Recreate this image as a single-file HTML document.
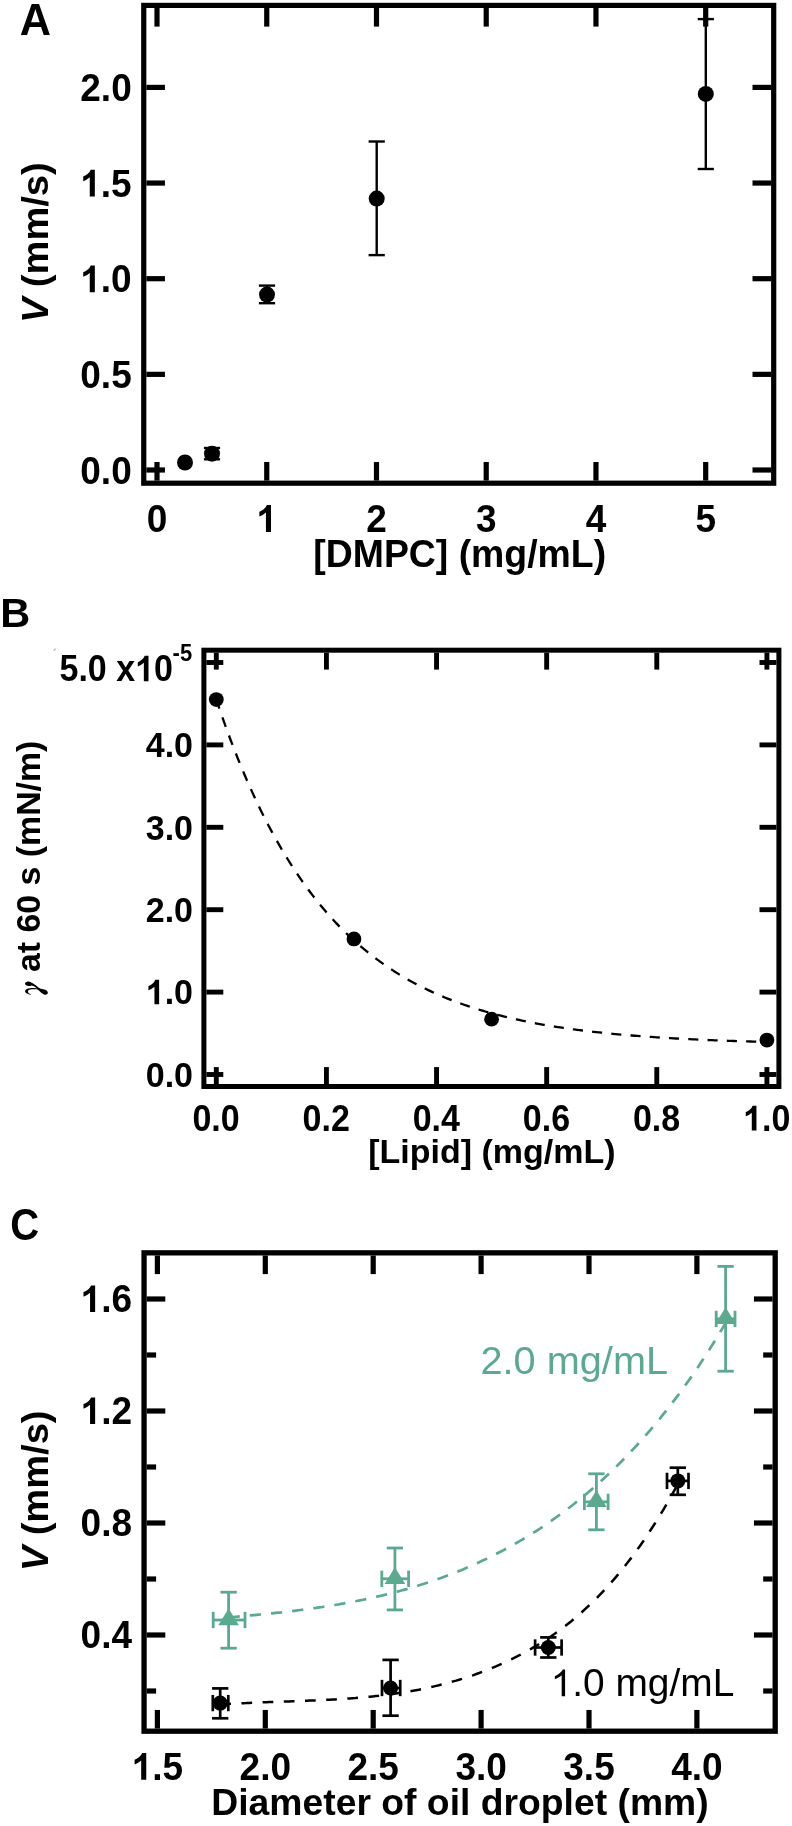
<!DOCTYPE html>
<html><head><meta charset="utf-8"><title>Figure</title>
<style>
html,body{margin:0;padding:0;background:#fff;}
body{width:792px;height:1826px;overflow:hidden;font-family:"Liberation Sans",sans-serif;}
svg{display:block;filter:blur(0.45px);}
</style></head><body>
<svg width="792" height="1826" viewBox="0 0 792 1826">
<rect x="0" y="0" width="792" height="1826" fill="#fff"/>
<rect x="143.75" y="5.40" width="629.95" height="477.80" fill="none" stroke="#000" stroke-width="5.2"/>
<line x1="157.00" y1="480.60" x2="157.00" y2="462.00" stroke="#000" stroke-width="5.2" />
<line x1="157.00" y1="8.00" x2="157.00" y2="26.60" stroke="#000" stroke-width="5.2" />
<text transform="translate(157.00,532.00) scale(1,1.065)" font-size="37" text-anchor="middle" font-family="Liberation Sans, sans-serif" font-weight="bold" fill="#000" >0</text>
<line x1="266.74" y1="480.60" x2="266.74" y2="462.00" stroke="#000" stroke-width="5.2" />
<line x1="266.74" y1="8.00" x2="266.74" y2="26.60" stroke="#000" stroke-width="5.2" />
<g transform="translate(256.45,532.00) scale(1,1.065)" fill="#000"><path transform="translate(0.00,0) scale(0.01807,-0.01729)" d="M806 0H525V1059Q371 915 162 846V1101Q272 1137 401 1237.5Q530 1338 578 1472H806Z"/></g>
<line x1="376.48" y1="480.60" x2="376.48" y2="462.00" stroke="#000" stroke-width="5.2" />
<line x1="376.48" y1="8.00" x2="376.48" y2="26.60" stroke="#000" stroke-width="5.2" />
<text transform="translate(376.48,532.00) scale(1,1.065)" font-size="37" text-anchor="middle" font-family="Liberation Sans, sans-serif" font-weight="bold" fill="#000" >2</text>
<line x1="486.22" y1="480.60" x2="486.22" y2="462.00" stroke="#000" stroke-width="5.2" />
<line x1="486.22" y1="8.00" x2="486.22" y2="26.60" stroke="#000" stroke-width="5.2" />
<text transform="translate(486.22,532.00) scale(1,1.065)" font-size="37" text-anchor="middle" font-family="Liberation Sans, sans-serif" font-weight="bold" fill="#000" >3</text>
<line x1="595.96" y1="480.60" x2="595.96" y2="462.00" stroke="#000" stroke-width="5.2" />
<line x1="595.96" y1="8.00" x2="595.96" y2="26.60" stroke="#000" stroke-width="5.2" />
<text transform="translate(595.96,532.00) scale(1,1.065)" font-size="37" text-anchor="middle" font-family="Liberation Sans, sans-serif" font-weight="bold" fill="#000" >4</text>
<line x1="705.70" y1="480.60" x2="705.70" y2="462.00" stroke="#000" stroke-width="5.2" />
<line x1="705.70" y1="8.00" x2="705.70" y2="26.60" stroke="#000" stroke-width="5.2" />
<text transform="translate(705.70,532.00) scale(1,1.065)" font-size="37" text-anchor="middle" font-family="Liberation Sans, sans-serif" font-weight="bold" fill="#000" >5</text>
<line x1="146.35" y1="470.00" x2="164.95" y2="470.00" stroke="#000" stroke-width="5.2" />
<line x1="771.10" y1="470.00" x2="752.50" y2="470.00" stroke="#000" stroke-width="5.2" />
<text transform="translate(131.70,483.50) scale(1,1.05)" font-size="37" text-anchor="end" font-family="Liberation Sans, sans-serif" font-weight="bold" fill="#000" >0.0</text>
<line x1="146.35" y1="374.35" x2="164.95" y2="374.35" stroke="#000" stroke-width="5.2" />
<line x1="771.10" y1="374.35" x2="752.50" y2="374.35" stroke="#000" stroke-width="5.2" />
<text transform="translate(131.70,387.85) scale(1,1.05)" font-size="37" text-anchor="end" font-family="Liberation Sans, sans-serif" font-weight="bold" fill="#000" >0.5</text>
<line x1="146.35" y1="278.70" x2="164.95" y2="278.70" stroke="#000" stroke-width="5.2" />
<line x1="771.10" y1="278.70" x2="752.50" y2="278.70" stroke="#000" stroke-width="5.2" />
<g transform="translate(80.27,292.20) scale(1,1.05)" fill="#000"><path transform="translate(0.00,0) scale(0.01807,-0.01729)" d="M806 0H525V1059Q371 915 162 846V1101Q272 1137 401 1237.5Q530 1338 578 1472H806Z"/><text x="20.57" y="0" font-size="37" text-anchor="start" font-family="Liberation Sans, sans-serif" font-weight="bold" >.0</text></g>
<line x1="146.35" y1="183.05" x2="164.95" y2="183.05" stroke="#000" stroke-width="5.2" />
<line x1="771.10" y1="183.05" x2="752.50" y2="183.05" stroke="#000" stroke-width="5.2" />
<g transform="translate(80.27,196.55) scale(1,1.05)" fill="#000"><path transform="translate(0.00,0) scale(0.01807,-0.01729)" d="M806 0H525V1059Q371 915 162 846V1101Q272 1137 401 1237.5Q530 1338 578 1472H806Z"/><text x="20.57" y="0" font-size="37" text-anchor="start" font-family="Liberation Sans, sans-serif" font-weight="bold" >.5</text></g>
<line x1="146.35" y1="87.40" x2="164.95" y2="87.40" stroke="#000" stroke-width="5.2" />
<line x1="771.10" y1="87.40" x2="752.50" y2="87.40" stroke="#000" stroke-width="5.2" />
<text transform="translate(131.70,100.90) scale(1,1.05)" font-size="37" text-anchor="end" font-family="Liberation Sans, sans-serif" font-weight="bold" fill="#000" >2.0</text>
<text transform="translate(313.30,567.00) scale(1,1.03)" font-size="37.4" text-anchor="start" font-family="Liberation Sans, sans-serif" font-weight="bold" fill="#000" >[DMPC] (mg/mL)</text>
<text transform="translate(47.5,242.7) rotate(-90) scale(1.03,0.985)" font-size="37" text-anchor="middle" font-family="Liberation Sans, sans-serif" font-weight="bold"><tspan font-style="italic">V</tspan> (mm/s)</text>
<text transform="translate(19.70,35.40) scale(1,1.02)" font-size="43.3" text-anchor="start" font-family="Liberation Sans, sans-serif" font-weight="bold" fill="#000" >A</text>
<circle cx="185" cy="462.5" r="8" fill="#000"/>
<line x1="212.00" y1="448.00" x2="212.00" y2="459.30" stroke="#000" stroke-width="2.4" />
<line x1="203.90" y1="448.00" x2="220.10" y2="448.00" stroke="#000" stroke-width="2.4" />
<line x1="203.90" y1="459.30" x2="220.10" y2="459.30" stroke="#000" stroke-width="2.4" />
<circle cx="212" cy="453.7" r="8" fill="#000"/>
<line x1="267.00" y1="285.60" x2="267.00" y2="303.20" stroke="#000" stroke-width="2.4" />
<line x1="258.90" y1="285.60" x2="275.10" y2="285.60" stroke="#000" stroke-width="2.4" />
<line x1="258.90" y1="303.20" x2="275.10" y2="303.20" stroke="#000" stroke-width="2.4" />
<circle cx="267" cy="294.6" r="8" fill="#000"/>
<line x1="376.70" y1="141.50" x2="376.70" y2="255.10" stroke="#000" stroke-width="2.4" />
<line x1="368.60" y1="141.50" x2="384.80" y2="141.50" stroke="#000" stroke-width="2.4" />
<line x1="368.60" y1="255.10" x2="384.80" y2="255.10" stroke="#000" stroke-width="2.4" />
<circle cx="376.7" cy="198.6" r="8" fill="#000"/>
<line x1="705.80" y1="19.10" x2="705.80" y2="169.00" stroke="#000" stroke-width="2.4" />
<line x1="697.70" y1="19.10" x2="713.90" y2="19.10" stroke="#000" stroke-width="2.4" />
<line x1="697.70" y1="169.00" x2="713.90" y2="169.00" stroke="#000" stroke-width="2.4" />
<circle cx="705.8" cy="93.9" r="8" fill="#000"/>
<rect x="203.90" y="650.20" width="575.00" height="436.30" fill="none" stroke="#000" stroke-width="5.0"/>
<line x1="216.30" y1="1084.00" x2="216.30" y2="1067.10" stroke="#000" stroke-width="4.9" />
<line x1="216.30" y1="652.70" x2="216.30" y2="669.60" stroke="#000" stroke-width="4.9" />
<text transform="translate(216.10,1130.60) scale(1,1.06)" font-size="34" text-anchor="middle" font-family="Liberation Sans, sans-serif" font-weight="bold" fill="#000" >0.0</text>
<line x1="326.42" y1="1084.00" x2="326.42" y2="1067.10" stroke="#000" stroke-width="4.9" />
<line x1="326.42" y1="652.70" x2="326.42" y2="669.60" stroke="#000" stroke-width="4.9" />
<text transform="translate(326.22,1130.60) scale(1,1.06)" font-size="34" text-anchor="middle" font-family="Liberation Sans, sans-serif" font-weight="bold" fill="#000" >0.2</text>
<line x1="436.54" y1="1084.00" x2="436.54" y2="1067.10" stroke="#000" stroke-width="4.9" />
<line x1="436.54" y1="652.70" x2="436.54" y2="669.60" stroke="#000" stroke-width="4.9" />
<text transform="translate(436.34,1130.60) scale(1,1.06)" font-size="34" text-anchor="middle" font-family="Liberation Sans, sans-serif" font-weight="bold" fill="#000" >0.4</text>
<line x1="546.66" y1="1084.00" x2="546.66" y2="1067.10" stroke="#000" stroke-width="4.9" />
<line x1="546.66" y1="652.70" x2="546.66" y2="669.60" stroke="#000" stroke-width="4.9" />
<text transform="translate(546.46,1130.60) scale(1,1.06)" font-size="34" text-anchor="middle" font-family="Liberation Sans, sans-serif" font-weight="bold" fill="#000" >0.6</text>
<line x1="656.78" y1="1084.00" x2="656.78" y2="1067.10" stroke="#000" stroke-width="4.9" />
<line x1="656.78" y1="652.70" x2="656.78" y2="669.60" stroke="#000" stroke-width="4.9" />
<text transform="translate(656.58,1130.60) scale(1,1.06)" font-size="34" text-anchor="middle" font-family="Liberation Sans, sans-serif" font-weight="bold" fill="#000" >0.8</text>
<line x1="766.90" y1="1084.00" x2="766.90" y2="1067.10" stroke="#000" stroke-width="4.9" />
<line x1="766.90" y1="652.70" x2="766.90" y2="669.60" stroke="#000" stroke-width="4.9" />
<g transform="translate(743.07,1130.60) scale(1,1.06)" fill="#000"><path transform="translate(0.00,0) scale(0.01660,-0.01589)" d="M806 0H525V1059Q371 915 162 846V1101Q272 1137 401 1237.5Q530 1338 578 1472H806Z"/><text x="18.90" y="0" font-size="34" text-anchor="start" font-family="Liberation Sans, sans-serif" font-weight="bold" >.0</text></g>
<line x1="206.40" y1="1074.50" x2="223.30" y2="1074.50" stroke="#000" stroke-width="4.9" />
<line x1="776.40" y1="1074.50" x2="759.50" y2="1074.50" stroke="#000" stroke-width="4.9" />
<text transform="translate(193.00,1086.70) scale(1,1.05)" font-size="34" text-anchor="end" font-family="Liberation Sans, sans-serif" font-weight="bold" fill="#000" >0.0</text>
<line x1="206.40" y1="992.10" x2="223.30" y2="992.10" stroke="#000" stroke-width="4.9" />
<line x1="776.40" y1="992.10" x2="759.50" y2="992.10" stroke="#000" stroke-width="4.9" />
<g transform="translate(145.74,1004.30) scale(1,1.05)" fill="#000"><path transform="translate(0.00,0) scale(0.01660,-0.01589)" d="M806 0H525V1059Q371 915 162 846V1101Q272 1137 401 1237.5Q530 1338 578 1472H806Z"/><text x="18.90" y="0" font-size="34" text-anchor="start" font-family="Liberation Sans, sans-serif" font-weight="bold" >.0</text></g>
<line x1="206.40" y1="909.70" x2="223.30" y2="909.70" stroke="#000" stroke-width="4.9" />
<line x1="776.40" y1="909.70" x2="759.50" y2="909.70" stroke="#000" stroke-width="4.9" />
<text transform="translate(193.00,921.90) scale(1,1.05)" font-size="34" text-anchor="end" font-family="Liberation Sans, sans-serif" font-weight="bold" fill="#000" >2.0</text>
<line x1="206.40" y1="827.30" x2="223.30" y2="827.30" stroke="#000" stroke-width="4.9" />
<line x1="776.40" y1="827.30" x2="759.50" y2="827.30" stroke="#000" stroke-width="4.9" />
<text transform="translate(193.00,839.50) scale(1,1.05)" font-size="34" text-anchor="end" font-family="Liberation Sans, sans-serif" font-weight="bold" fill="#000" >3.0</text>
<line x1="206.40" y1="744.90" x2="223.30" y2="744.90" stroke="#000" stroke-width="4.9" />
<line x1="776.40" y1="744.90" x2="759.50" y2="744.90" stroke="#000" stroke-width="4.9" />
<text transform="translate(193.00,757.10) scale(1,1.05)" font-size="34" text-anchor="end" font-family="Liberation Sans, sans-serif" font-weight="bold" fill="#000" >4.0</text>
<line x1="206.40" y1="662.50" x2="223.30" y2="662.50" stroke="#000" stroke-width="4.9" />
<line x1="776.40" y1="662.50" x2="759.50" y2="662.50" stroke="#000" stroke-width="4.9" />
<g transform="translate(59.50,681.20) scale(1,1.09)" fill="#000"><text x="0.00" y="0" font-size="34" text-anchor="start" font-family="Liberation Sans, sans-serif" font-weight="bold" >5.0 x</text><path transform="translate(75.62,0) scale(0.01660,-0.01589)" d="M806 0H525V1059Q371 915 162 846V1101Q272 1137 401 1237.5Q530 1338 578 1472H806Z"/><text x="94.52" y="0" font-size="34" text-anchor="start" font-family="Liberation Sans, sans-serif" font-weight="bold" >0</text></g>
<text transform="translate(172.60,661.00) scale(1,1.08)" font-size="22" text-anchor="start" font-family="Liberation Sans, sans-serif" font-weight="bold" fill="#000" >-5</text>
<text transform="translate(368.20,1163.40) scale(1,0.99)" font-size="34" text-anchor="start" font-family="Liberation Sans, sans-serif" font-weight="bold" fill="#000" >[Lipid] (mg/mL)</text>
<g transform="translate(15,970) scale(0.056818)" fill="#000"><path d="M215,205C260,200 320,235 370,275C400,300 420,320 450,330C520,335 580,360 578,400C575,435 540,440 510,430C470,415 430,375 400,340C370,305 330,275 290,272C260,285 215,285 190,265C165,240 180,208 215,205Z"/><path d="M275,435C230,425 175,410 178,375C180,335 240,318 310,318C350,318 390,322 420,332L415,346C380,338 340,336 300,340C250,345 225,360 228,385C232,410 255,422 282,428Z"/></g>
<text transform="translate(39.6,972.0) rotate(-90) scale(1.068,1.04)" font-size="31.7" text-anchor="start" font-family="Liberation Sans, sans-serif" font-weight="bold">at 60 s (mN/m)</text>
<text transform="translate(0.20,627.30) scale(1,1.0)" font-size="41.5" text-anchor="start" font-family="Liberation Sans, sans-serif" font-weight="bold" fill="#000" >B</text>
<line x1="53.60" y1="650.40" x2="55.60" y2="649.00" stroke="#777" stroke-width="0.9" />
<path d="M216.30,699.58 L219.05,707.74 L221.81,715.71 L224.56,723.49 L227.31,731.09 L230.06,738.50 L232.82,745.75 L235.57,752.82 L238.32,759.72 L241.08,766.46 L243.83,773.04 L246.58,779.47 L249.34,785.74 L252.09,791.86 L254.84,797.84 L257.60,803.68 L260.35,809.38 L263.10,814.95 L265.85,820.38 L268.61,825.69 L271.36,830.87 L274.11,835.93 L276.87,840.87 L279.62,845.69 L282.37,850.40 L285.12,854.99 L287.88,859.48 L290.63,863.86 L293.38,868.14 L296.14,872.32 L298.89,876.40 L301.64,880.38 L304.40,884.27 L307.15,888.06 L309.90,891.77 L312.66,895.39 L315.41,898.92 L318.16,902.37 L320.91,905.74 L323.67,909.02 L326.42,912.23 L329.17,915.37 L331.93,918.43 L334.68,921.42 L337.43,924.34 L340.19,927.18 L342.94,929.97 L345.69,932.68 L348.44,935.33 L351.20,937.92 L353.95,940.45 L356.70,942.92 L359.46,945.33 L362.21,947.68 L364.96,949.97 L367.72,952.22 L370.47,954.41 L373.22,956.54 L375.97,958.63 L378.73,960.67 L381.48,962.66 L384.23,964.60 L386.99,966.50 L389.74,968.35 L392.49,970.16 L395.25,971.92 L398.00,973.65 L400.75,975.33 L403.50,976.97 L406.26,978.58 L409.01,980.14 L411.76,981.67 L414.52,983.17 L417.27,984.62 L420.02,986.05 L422.78,987.44 L425.53,988.79 L428.28,990.12 L431.03,991.41 L433.79,992.68 L436.54,993.91 L439.29,995.11 L442.05,996.29 L444.80,997.44 L447.55,998.56 L450.31,999.65 L453.06,1000.72 L455.81,1001.76 L458.56,1002.78 L461.32,1003.77 L464.07,1004.74 L466.82,1005.69 L469.58,1006.62 L472.33,1007.52 L475.08,1008.40 L477.84,1009.26 L480.59,1010.10 L483.34,1010.93 L486.09,1011.73 L488.85,1012.51 L491.60,1013.27 L494.35,1014.02 L497.11,1014.75 L499.86,1015.46 L502.61,1016.15 L505.37,1016.83 L508.12,1017.49 L510.87,1018.14 L513.62,1018.77 L516.38,1019.39 L519.13,1019.99 L521.88,1020.58 L524.64,1021.15 L527.39,1021.71 L530.14,1022.26 L532.89,1022.79 L535.65,1023.31 L538.40,1023.82 L541.15,1024.32 L543.91,1024.80 L546.66,1025.28 L549.41,1025.74 L552.17,1026.19 L554.92,1026.63 L557.67,1027.06 L560.42,1027.48 L563.18,1027.89 L565.93,1028.29 L568.68,1028.68 L571.44,1029.07 L574.19,1029.44 L576.94,1029.80 L579.70,1030.16 L582.45,1030.50 L585.20,1030.84 L587.96,1031.17 L590.71,1031.50 L593.46,1031.81 L596.21,1032.12 L598.97,1032.42 L601.72,1032.71 L604.47,1033.00 L607.23,1033.28 L609.98,1033.55 L612.73,1033.82 L615.49,1034.08 L618.24,1034.34 L620.99,1034.58 L623.74,1034.83 L626.50,1035.06 L629.25,1035.29 L632.00,1035.52 L634.76,1035.74 L637.51,1035.95 L640.26,1036.16 L643.02,1036.37 L645.77,1036.57 L648.52,1036.76 L651.27,1036.96 L654.03,1037.14 L656.78,1037.32 L659.53,1037.50 L662.29,1037.67 L665.04,1037.84 L667.79,1038.01 L670.55,1038.17 L673.30,1038.33 L676.05,1038.48 L678.80,1038.63 L681.56,1038.78 L684.31,1038.92 L687.06,1039.06 L689.82,1039.20 L692.57,1039.33 L695.32,1039.46 L698.08,1039.59 L700.83,1039.71 L703.58,1039.83 L706.33,1039.95 L709.09,1040.07 L711.84,1040.18 L714.59,1040.29 L717.35,1040.40 L720.10,1040.50 L722.85,1040.61 L725.61,1040.71 L728.36,1040.80 L731.11,1040.90 L733.86,1040.99 L736.62,1041.08 L739.37,1041.17 L742.12,1041.26 L744.88,1041.34 L747.63,1041.42 L750.38,1041.51 L753.13,1041.58 L755.89,1041.66 L758.64,1041.74 L761.39,1041.81 L764.15,1041.88 L766.90,1041.95" fill="none" stroke="#000" stroke-width="2.3" stroke-dasharray="10.1 9.2" stroke-dashoffset="0.5"/>
<circle cx="216.30" cy="699.58" r="7.4" fill="#000"/>
<circle cx="353.95" cy="938.95" r="7.4" fill="#000"/>
<circle cx="491.60" cy="1019.13" r="7.4" fill="#000"/>
<circle cx="766.90" cy="1040.06" r="7.4" fill="#000"/>
<rect x="144.05" y="1252.85" width="631.15" height="478.35" fill="none" stroke="#000" stroke-width="5.3"/>
<line x1="157.40" y1="1728.55" x2="157.40" y2="1709.95" stroke="#000" stroke-width="5.2" />
<line x1="157.40" y1="1255.50" x2="157.40" y2="1274.10" stroke="#000" stroke-width="5.2" />
<g transform="translate(131.69,1779.80) scale(1,1.05)" fill="#000"><path transform="translate(0.00,0) scale(0.01807,-0.01729)" d="M806 0H525V1059Q371 915 162 846V1101Q272 1137 401 1237.5Q530 1338 578 1472H806Z"/><text x="20.57" y="0" font-size="37" text-anchor="start" font-family="Liberation Sans, sans-serif" font-weight="bold" >.5</text></g>
<line x1="265.30" y1="1728.55" x2="265.30" y2="1709.95" stroke="#000" stroke-width="5.2" />
<line x1="265.30" y1="1255.50" x2="265.30" y2="1274.10" stroke="#000" stroke-width="5.2" />
<text transform="translate(265.30,1779.80) scale(1,1.05)" font-size="37" text-anchor="middle" font-family="Liberation Sans, sans-serif" font-weight="bold" fill="#000" >2.0</text>
<line x1="373.20" y1="1728.55" x2="373.20" y2="1709.95" stroke="#000" stroke-width="5.2" />
<line x1="373.20" y1="1255.50" x2="373.20" y2="1274.10" stroke="#000" stroke-width="5.2" />
<text transform="translate(373.20,1779.80) scale(1,1.05)" font-size="37" text-anchor="middle" font-family="Liberation Sans, sans-serif" font-weight="bold" fill="#000" >2.5</text>
<line x1="481.10" y1="1728.55" x2="481.10" y2="1709.95" stroke="#000" stroke-width="5.2" />
<line x1="481.10" y1="1255.50" x2="481.10" y2="1274.10" stroke="#000" stroke-width="5.2" />
<text transform="translate(481.10,1779.80) scale(1,1.05)" font-size="37" text-anchor="middle" font-family="Liberation Sans, sans-serif" font-weight="bold" fill="#000" >3.0</text>
<line x1="589.00" y1="1728.55" x2="589.00" y2="1709.95" stroke="#000" stroke-width="5.2" />
<line x1="589.00" y1="1255.50" x2="589.00" y2="1274.10" stroke="#000" stroke-width="5.2" />
<text transform="translate(589.00,1779.80) scale(1,1.05)" font-size="37" text-anchor="middle" font-family="Liberation Sans, sans-serif" font-weight="bold" fill="#000" >3.5</text>
<line x1="696.90" y1="1728.55" x2="696.90" y2="1709.95" stroke="#000" stroke-width="5.2" />
<line x1="696.90" y1="1255.50" x2="696.90" y2="1274.10" stroke="#000" stroke-width="5.2" />
<text transform="translate(696.90,1779.80) scale(1,1.05)" font-size="37" text-anchor="middle" font-family="Liberation Sans, sans-serif" font-weight="bold" fill="#000" >4.0</text>
<line x1="146.70" y1="1691.00" x2="156.10" y2="1691.00" stroke="#000" stroke-width="5.2" />
<line x1="772.55" y1="1691.00" x2="763.15" y2="1691.00" stroke="#000" stroke-width="5.2" />
<line x1="146.70" y1="1635.00" x2="165.30" y2="1635.00" stroke="#000" stroke-width="5.2" />
<line x1="772.55" y1="1635.00" x2="753.95" y2="1635.00" stroke="#000" stroke-width="5.2" />
<text transform="translate(132.00,1648.10) scale(1,1.05)" font-size="37" text-anchor="end" font-family="Liberation Sans, sans-serif" font-weight="bold" fill="#000" >0.4</text>
<line x1="146.70" y1="1579.00" x2="156.10" y2="1579.00" stroke="#000" stroke-width="5.2" />
<line x1="772.55" y1="1579.00" x2="763.15" y2="1579.00" stroke="#000" stroke-width="5.2" />
<line x1="146.70" y1="1523.00" x2="165.30" y2="1523.00" stroke="#000" stroke-width="5.2" />
<line x1="772.55" y1="1523.00" x2="753.95" y2="1523.00" stroke="#000" stroke-width="5.2" />
<text transform="translate(132.00,1536.10) scale(1,1.05)" font-size="37" text-anchor="end" font-family="Liberation Sans, sans-serif" font-weight="bold" fill="#000" >0.8</text>
<line x1="146.70" y1="1467.00" x2="156.10" y2="1467.00" stroke="#000" stroke-width="5.2" />
<line x1="772.55" y1="1467.00" x2="763.15" y2="1467.00" stroke="#000" stroke-width="5.2" />
<line x1="146.70" y1="1411.00" x2="165.30" y2="1411.00" stroke="#000" stroke-width="5.2" />
<line x1="772.55" y1="1411.00" x2="753.95" y2="1411.00" stroke="#000" stroke-width="5.2" />
<g transform="translate(80.57,1424.10) scale(1,1.05)" fill="#000"><path transform="translate(0.00,0) scale(0.01807,-0.01729)" d="M806 0H525V1059Q371 915 162 846V1101Q272 1137 401 1237.5Q530 1338 578 1472H806Z"/><text x="20.57" y="0" font-size="37" text-anchor="start" font-family="Liberation Sans, sans-serif" font-weight="bold" >.2</text></g>
<line x1="146.70" y1="1355.00" x2="156.10" y2="1355.00" stroke="#000" stroke-width="5.2" />
<line x1="772.55" y1="1355.00" x2="763.15" y2="1355.00" stroke="#000" stroke-width="5.2" />
<line x1="146.70" y1="1299.00" x2="165.30" y2="1299.00" stroke="#000" stroke-width="5.2" />
<line x1="772.55" y1="1299.00" x2="753.95" y2="1299.00" stroke="#000" stroke-width="5.2" />
<g transform="translate(80.57,1312.10) scale(1,1.05)" fill="#000"><path transform="translate(0.00,0) scale(0.01807,-0.01729)" d="M806 0H525V1059Q371 915 162 846V1101Q272 1137 401 1237.5Q530 1338 578 1472H806Z"/><text x="20.57" y="0" font-size="37" text-anchor="start" font-family="Liberation Sans, sans-serif" font-weight="bold" >.6</text></g>
<text transform="translate(211.30,1814.70) scale(1,1.0)" font-size="37.3" text-anchor="start" font-family="Liberation Sans, sans-serif" font-weight="bold" fill="#000" >Diameter of oil droplet (mm)</text>
<text transform="translate(47.6,1490.9) rotate(-90) scale(1.03,0.985)" font-size="37" text-anchor="middle" font-family="Liberation Sans, sans-serif" font-weight="bold"><tspan font-style="italic">V</tspan> (mm/s)</text>
<text transform="translate(10.30,1240.40) scale(1,1.09)" font-size="40" text-anchor="start" font-family="Liberation Sans, sans-serif" font-weight="bold" fill="#000" >C</text>
<text transform="translate(480.50,1374.20) scale(1,0.99)" font-size="39.7" text-anchor="start" font-family="Liberation Sans, sans-serif" fill="#5ba98f" >2.0 mg/mL</text>
<g transform="translate(550.60,1696.20) scale(1,1.0)" fill="#000"><path transform="translate(0.00,0) scale(0.01899,-0.01818)" d="M763 0H583V1147Q518 1085 412.5 1023Q307 961 223 930V1104Q374 1175 487 1276Q600 1377 647 1472H763Z"/><text x="21.63" y="0" font-size="38.9" text-anchor="start" font-family="Liberation Sans, sans-serif" >.0 mg/mL</text></g>
<path d="M228.6,1617.4 L231.7,1617.1 L234.9,1616.9 L238.0,1616.6 L241.1,1616.3 L244.2,1616.0 L247.4,1615.7 L250.5,1615.4 L253.6,1615.1 L256.7,1614.8 L259.9,1614.5 L263.0,1614.2 L266.1,1613.9 L269.2,1613.6 L272.4,1613.3 L275.5,1612.9 L278.6,1612.6 L281.7,1612.3 L284.9,1611.9 L288.0,1611.5 L291.1,1611.2 L294.2,1610.8 L297.4,1610.4 L300.5,1610.0 L303.6,1609.6 L306.7,1609.2 L309.9,1608.8 L313.0,1608.3 L316.1,1607.9 L319.2,1607.4 L322.4,1607.0 L325.5,1606.5 L328.6,1606.0 L331.7,1605.5 L334.9,1605.0 L338.0,1604.5 L341.1,1603.9 L344.2,1603.4 L347.4,1602.8 L350.5,1602.2 L353.6,1601.6 L356.7,1601.0 L359.9,1600.4 L363.0,1599.8 L366.1,1599.1 L369.2,1598.4 L372.4,1597.8 L375.5,1597.1 L378.6,1596.3 L381.7,1595.6 L384.9,1594.8 L388.0,1594.1 L391.1,1593.3 L394.2,1592.5 L397.4,1591.6 L400.5,1590.8 L403.6,1589.9 L406.7,1589.1 L409.9,1588.1 L413.0,1587.2 L416.1,1586.3 L419.2,1585.3 L422.4,1584.3 L425.5,1583.3 L428.6,1582.3 L431.7,1581.2 L434.9,1580.1 L438.0,1579.0 L441.1,1577.9 L444.2,1576.8 L447.4,1575.6 L450.5,1574.4 L453.6,1573.2 L456.7,1571.9 L459.9,1570.7 L463.0,1569.4 L466.1,1568.0 L469.2,1566.7 L472.4,1565.3 L475.5,1563.9 L478.6,1562.5 L481.7,1561.0 L484.9,1559.6 L488.0,1558.0 L491.1,1556.5 L494.2,1554.9 L497.4,1553.3 L500.5,1551.7 L503.6,1550.1 L506.7,1548.4 L509.9,1546.7 L513.0,1544.9 L516.1,1543.1 L519.2,1541.3 L522.4,1539.5 L525.5,1537.6 L528.6,1535.7 L531.7,1533.8 L534.9,1531.8 L538.0,1529.8 L541.1,1527.8 L544.2,1525.7 L547.4,1523.6 L550.5,1521.4 L553.6,1519.2 L556.7,1517.0 L559.9,1514.7 L563.0,1512.4 L566.1,1510.1 L569.2,1507.7 L572.4,1505.3 L575.5,1502.8 L578.6,1500.3 L581.7,1497.8 L584.9,1495.2 L588.0,1492.5 L591.1,1489.9 L594.2,1487.1 L597.4,1484.4 L600.5,1481.6 L603.6,1478.7 L606.7,1475.8 L609.9,1472.8 L613.0,1469.8 L616.1,1466.8 L619.2,1463.7 L622.4,1460.5 L625.5,1457.3 L628.6,1454.1 L631.7,1450.7 L634.9,1447.4 L638.0,1444.0 L641.1,1440.5 L644.2,1437.0 L647.4,1433.4 L650.5,1429.8 L653.6,1426.1 L656.7,1422.4 L659.9,1418.6 L663.0,1414.7 L666.1,1410.8 L669.2,1406.8 L672.4,1402.7 L675.5,1398.6 L678.6,1394.5 L681.7,1390.2 L684.9,1385.9 L688.0,1381.5 L691.1,1377.1 L694.2,1372.5 L697.4,1367.9 L700.5,1363.3 L703.6,1358.5 L706.7,1353.7 L709.9,1348.8 L713.0,1343.8 L716.1,1338.7 L719.2,1333.6 L722.4,1328.4 L725.5,1323.1" fill="none" stroke="#5ba98f" stroke-width="2.7" stroke-dasharray="11.2 10.1"/>
<path d="M220.3,1704.6 L223.2,1704.4 L226.1,1704.2 L228.9,1704.0 L231.8,1703.8 L234.7,1703.7 L237.6,1703.5 L240.4,1703.4 L243.3,1703.2 L246.2,1703.1 L249.1,1702.9 L251.9,1702.8 L254.8,1702.7 L257.7,1702.6 L260.6,1702.4 L263.5,1702.3 L266.3,1702.2 L269.2,1702.1 L272.1,1702.0 L275.0,1701.9 L277.8,1701.8 L280.7,1701.7 L283.6,1701.6 L286.5,1701.5 L289.3,1701.4 L292.2,1701.3 L295.1,1701.2 L298.0,1701.1 L300.8,1701.0 L303.7,1700.8 L306.6,1700.7 L309.5,1700.6 L312.4,1700.5 L315.2,1700.4 L318.1,1700.2 L321.0,1700.1 L323.9,1700.0 L326.7,1699.8 L329.6,1699.7 L332.5,1699.5 L335.4,1699.4 L338.2,1699.2 L341.1,1699.0 L344.0,1698.8 L346.9,1698.6 L349.8,1698.4 L352.6,1698.2 L355.5,1698.0 L358.4,1697.7 L361.3,1697.5 L364.1,1697.2 L367.0,1697.0 L369.9,1696.7 L372.8,1696.4 L375.6,1696.1 L378.5,1695.8 L381.4,1695.4 L384.3,1695.1 L387.2,1694.7 L390.0,1694.3 L392.9,1694.0 L395.8,1693.5 L398.7,1693.1 L401.5,1692.7 L404.4,1692.2 L407.3,1691.7 L410.2,1691.3 L413.0,1690.7 L415.9,1690.2 L418.8,1689.7 L421.7,1689.1 L424.5,1688.5 L427.4,1687.9 L430.3,1687.3 L433.2,1686.6 L436.1,1685.9 L438.9,1685.3 L441.8,1684.5 L444.7,1683.8 L447.6,1683.0 L450.4,1682.2 L453.3,1681.4 L456.2,1680.6 L459.1,1679.7 L461.9,1678.9 L464.8,1677.9 L467.7,1677.0 L470.6,1676.0 L473.5,1675.1 L476.3,1674.0 L479.2,1673.0 L482.1,1671.9 L485.0,1670.8 L487.8,1669.7 L490.7,1668.5 L493.6,1667.3 L496.5,1666.1 L499.3,1664.8 L502.2,1663.6 L505.1,1662.2 L508.0,1660.9 L510.8,1659.5 L513.7,1658.1 L516.6,1656.7 L519.5,1655.2 L522.4,1653.7 L525.2,1652.1 L528.1,1650.5 L531.0,1648.9 L533.9,1647.2 L536.7,1645.5 L539.6,1643.7 L542.5,1641.9 L545.4,1640.1 L548.2,1638.2 L551.1,1636.3 L554.0,1634.3 L556.9,1632.2 L559.8,1630.1 L562.6,1628.0 L565.5,1625.8 L568.4,1623.5 L571.3,1621.2 L574.1,1618.8 L577.0,1616.4 L579.9,1613.9 L582.8,1611.3 L585.6,1608.7 L588.5,1606.0 L591.4,1603.3 L594.3,1600.5 L597.2,1597.6 L600.0,1594.7 L602.9,1591.6 L605.8,1588.5 L608.7,1585.4 L611.5,1582.1 L614.4,1578.8 L617.3,1575.4 L620.2,1572.0 L623.0,1568.4 L625.9,1564.8 L628.8,1561.1 L631.7,1557.3 L634.5,1553.4 L637.4,1549.4 L640.3,1545.4 L643.2,1541.3 L646.1,1537.0 L648.9,1532.7 L651.8,1528.3 L654.7,1523.8 L657.6,1519.2 L660.4,1514.5 L663.3,1509.8 L666.2,1504.9 L669.1,1499.9 L671.9,1494.8 L674.8,1489.6 L677.7,1484.3" fill="none" stroke="#000" stroke-width="2.5" stroke-dasharray="10.7 10.5"/>
<line x1="228.60" y1="1592.20" x2="228.60" y2="1648.20" stroke="#5ba98f" stroke-width="2.8" />
<line x1="220.45" y1="1592.20" x2="236.75" y2="1592.20" stroke="#5ba98f" stroke-width="2.8" />
<line x1="220.45" y1="1648.20" x2="236.75" y2="1648.20" stroke="#5ba98f" stroke-width="2.8" />
<line x1="213.20" y1="1620.00" x2="245.00" y2="1620.00" stroke="#5ba98f" stroke-width="2.8" />
<line x1="213.20" y1="1611.85" x2="213.20" y2="1628.15" stroke="#5ba98f" stroke-width="2.8" />
<line x1="245.00" y1="1611.85" x2="245.00" y2="1628.15" stroke="#5ba98f" stroke-width="2.8" />
<polygon points="228.6,1608.4 218.3,1625.2 238.9,1625.2" fill="#5ba98f"/>
<line x1="394.90" y1="1548.00" x2="394.90" y2="1609.90" stroke="#5ba98f" stroke-width="2.8" />
<line x1="386.75" y1="1548.00" x2="403.05" y2="1548.00" stroke="#5ba98f" stroke-width="2.8" />
<line x1="386.75" y1="1609.90" x2="403.05" y2="1609.90" stroke="#5ba98f" stroke-width="2.8" />
<line x1="381.80" y1="1578.80" x2="408.60" y2="1578.80" stroke="#5ba98f" stroke-width="2.8" />
<line x1="381.80" y1="1570.65" x2="381.80" y2="1586.95" stroke="#5ba98f" stroke-width="2.8" />
<line x1="408.60" y1="1570.65" x2="408.60" y2="1586.95" stroke="#5ba98f" stroke-width="2.8" />
<polygon points="394.9,1567.2 384.6,1584.0 405.2,1584.0" fill="#5ba98f"/>
<line x1="596.40" y1="1473.80" x2="596.40" y2="1529.80" stroke="#5ba98f" stroke-width="2.8" />
<line x1="588.25" y1="1473.80" x2="604.55" y2="1473.80" stroke="#5ba98f" stroke-width="2.8" />
<line x1="588.25" y1="1529.80" x2="604.55" y2="1529.80" stroke="#5ba98f" stroke-width="2.8" />
<line x1="584.40" y1="1501.90" x2="608.10" y2="1501.90" stroke="#5ba98f" stroke-width="2.8" />
<line x1="584.40" y1="1493.75" x2="584.40" y2="1510.05" stroke="#5ba98f" stroke-width="2.8" />
<line x1="608.10" y1="1493.75" x2="608.10" y2="1510.05" stroke="#5ba98f" stroke-width="2.8" />
<polygon points="596.4,1490.3 586.1,1507.1 606.7,1507.1" fill="#5ba98f"/>
<line x1="725.60" y1="1266.40" x2="725.60" y2="1371.20" stroke="#5ba98f" stroke-width="2.8" />
<line x1="717.45" y1="1266.40" x2="733.75" y2="1266.40" stroke="#5ba98f" stroke-width="2.8" />
<line x1="717.45" y1="1371.20" x2="733.75" y2="1371.20" stroke="#5ba98f" stroke-width="2.8" />
<line x1="716.20" y1="1318.90" x2="735.00" y2="1318.90" stroke="#5ba98f" stroke-width="2.8" />
<line x1="716.20" y1="1310.75" x2="716.20" y2="1327.05" stroke="#5ba98f" stroke-width="2.8" />
<line x1="735.00" y1="1310.75" x2="735.00" y2="1327.05" stroke="#5ba98f" stroke-width="2.8" />
<polygon points="725.6,1307.3 715.3,1324.1 735.9,1324.1" fill="#5ba98f"/>
<line x1="220.20" y1="1688.40" x2="220.20" y2="1718.30" stroke="#000" stroke-width="2.7" />
<line x1="212.05" y1="1688.40" x2="228.35" y2="1688.40" stroke="#000" stroke-width="2.7" />
<line x1="212.05" y1="1718.30" x2="228.35" y2="1718.30" stroke="#000" stroke-width="2.7" />
<line x1="212.80" y1="1703.10" x2="228.30" y2="1703.10" stroke="#000" stroke-width="2.7" />
<line x1="212.80" y1="1694.95" x2="212.80" y2="1711.25" stroke="#000" stroke-width="2.7" />
<line x1="228.30" y1="1694.95" x2="228.30" y2="1711.25" stroke="#000" stroke-width="2.7" />
<circle cx="220.2" cy="1703.1" r="7.5" fill="#000"/>
<line x1="390.60" y1="1659.90" x2="390.60" y2="1715.70" stroke="#000" stroke-width="2.7" />
<line x1="382.45" y1="1659.90" x2="398.75" y2="1659.90" stroke="#000" stroke-width="2.7" />
<line x1="382.45" y1="1715.70" x2="398.75" y2="1715.70" stroke="#000" stroke-width="2.7" />
<line x1="382.00" y1="1688.00" x2="400.20" y2="1688.00" stroke="#000" stroke-width="2.7" />
<line x1="382.00" y1="1679.85" x2="382.00" y2="1696.15" stroke="#000" stroke-width="2.7" />
<line x1="400.20" y1="1679.85" x2="400.20" y2="1696.15" stroke="#000" stroke-width="2.7" />
<circle cx="390.6" cy="1688.0" r="7.5" fill="#000"/>
<line x1="548.30" y1="1637.40" x2="548.30" y2="1657.50" stroke="#000" stroke-width="2.7" />
<line x1="540.15" y1="1637.40" x2="556.45" y2="1637.40" stroke="#000" stroke-width="2.7" />
<line x1="540.15" y1="1657.50" x2="556.45" y2="1657.50" stroke="#000" stroke-width="2.7" />
<line x1="535.10" y1="1647.50" x2="561.60" y2="1647.50" stroke="#000" stroke-width="2.7" />
<line x1="535.10" y1="1639.35" x2="535.10" y2="1655.65" stroke="#000" stroke-width="2.7" />
<line x1="561.60" y1="1639.35" x2="561.60" y2="1655.65" stroke="#000" stroke-width="2.7" />
<circle cx="548.3" cy="1647.5" r="7.5" fill="#000"/>
<line x1="677.80" y1="1467.70" x2="677.80" y2="1494.80" stroke="#000" stroke-width="2.7" />
<line x1="669.65" y1="1467.70" x2="685.95" y2="1467.70" stroke="#000" stroke-width="2.7" />
<line x1="669.65" y1="1494.80" x2="685.95" y2="1494.80" stroke="#000" stroke-width="2.7" />
<line x1="667.00" y1="1480.90" x2="688.50" y2="1480.90" stroke="#000" stroke-width="2.7" />
<line x1="667.00" y1="1472.75" x2="667.00" y2="1489.05" stroke="#000" stroke-width="2.7" />
<line x1="688.50" y1="1472.75" x2="688.50" y2="1489.05" stroke="#000" stroke-width="2.7" />
<circle cx="677.8" cy="1480.9" r="7.5" fill="#000"/>
</svg>
</body></html>
